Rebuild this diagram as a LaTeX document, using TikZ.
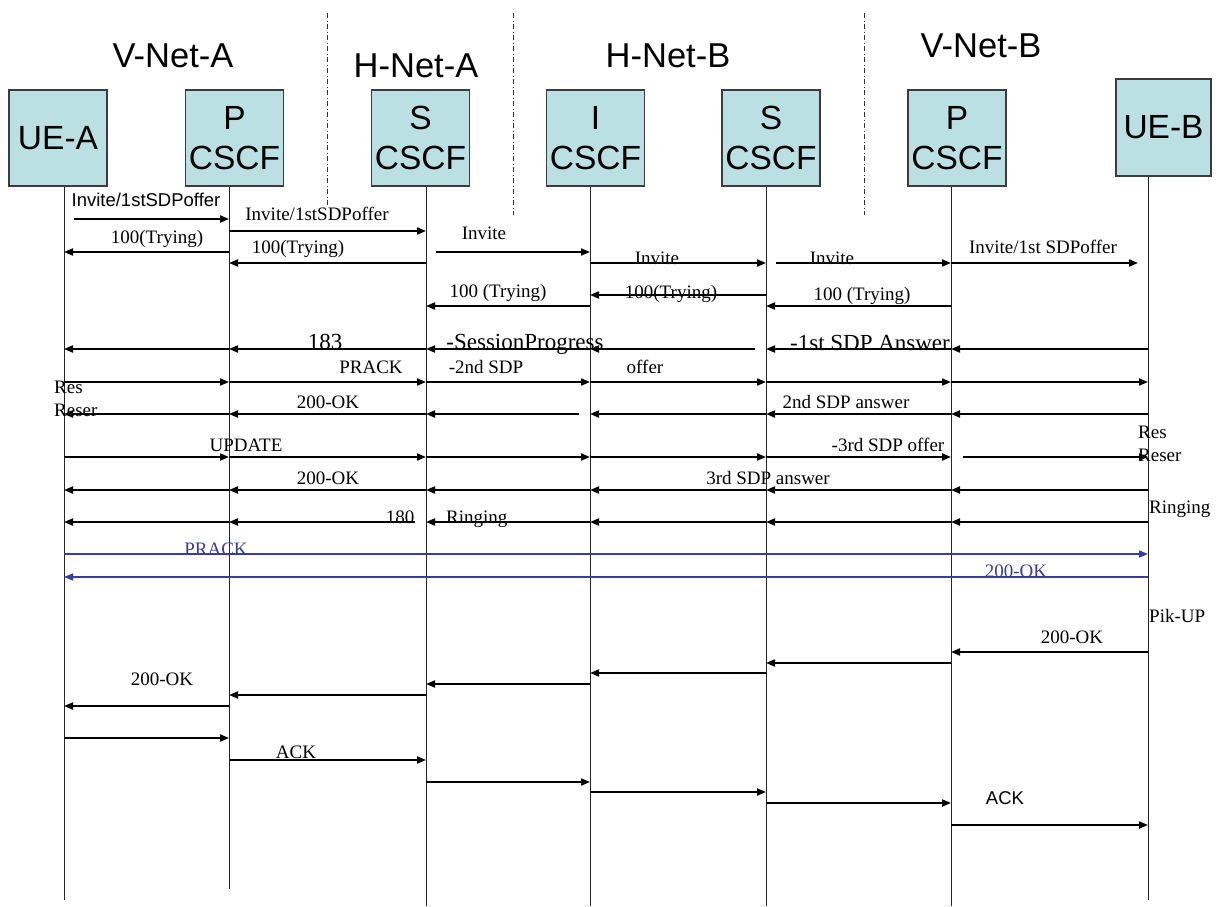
\documentclass[tikz,border=0pt]{standalone}
\usepackage{fontspec}
\setmainfont{Liberation Serif}
\newfontfamily\arialf{Liberation Sans}
\usetikzlibrary{arrows.meta,calc}
\definecolor{boxfill}{RGB}{186,224,228}
\definecolor{boxline}{RGB}{60,60,60}
\definecolor{msgblue}{RGB}{60,60,160}
\newcommand\mg[4][]{\draw[msg,#1] ($(#2)+(0,#4)$) -- ($(#3)+(0,#4)$);}
\begin{document}
\begin{tikzpicture}[x=1pt,y=-1pt,
  ent/.style={draw=boxline,line width=1.3pt,fill=boxfill,minimum width=98pt,minimum height=96pt,inner sep=0pt,align=center,font=\arialf\fontsize{33.5}{40}\selectfont},
  title/.style={inner sep=0pt,font=\arialf\fontsize{34.5}{40}\selectfont,text height=24.7pt,text depth=0pt},
  lifeline/.style={draw=black!85,line width=1pt},
  sep/.style={draw=black!80,line width=1pt,dash pattern=on 5pt off 2.5pt on 1pt off 2.5pt},
  msg/.style={line width=1.9pt,-{Triangle[length=9pt,width=7pt]}},
  lbl/.style={inner sep=0pt,font=\fontsize{19}{22}\selectfont,text height=12.6pt,text depth=0pt},
  slbl/.style={inner sep=0pt,font=\arialf\fontsize{18.5}{22}\selectfont,text height=13.2pt,text depth=0pt},
  big/.style={inner sep=0pt,font=\fontsize{23}{26}\selectfont,text height=15.2pt,text depth=0pt},
  blue/.style={draw=msgblue,line width=1.5pt,-{Triangle[length=9pt,width=7pt]}}
]
\useasboundingbox (0,0) rectangle (1222,906);
% titles
\node[title] (tva) at (173,55) {V-Net-A};
\node[title] (tha) at (416,65) {H-Net-A};
\node[title] (thb) at (668,55) {H-Net-B};
\node[title] (tvb) at (981,45) {V-Net-B};
% separators
\draw[sep] (327,13) -- (327,207);
\draw[sep] (513,13) -- (513,215);
\draw[sep] (864,13) -- (864,215);
% entities
\node[ent] (uea) at (58,138) {UE-A};
\node[ent] (pca) at (234.5,138) {P\\CSCF};
\node[ent] (sca) at (420.5,138) {S\\CSCF};
\node[ent] (icf) at (595.5,138) {I\\CSCF};
\node[ent] (scb) at (771,138) {S\\CSCF};
\node[ent] (pcb) at (957,138) {P\\CSCF};
\node[ent,minimum width=95pt,minimum height=97pt] (ueb) at (1163.5,127.5) {UE-B};
% lifeline x positions
\coordinate (la) at (64,0);
\coordinate (lpa) at (229,0);
\coordinate (lsa) at (426,0);
\coordinate (li) at (590,0);
\coordinate (lsb) at (766,0);
\coordinate (lpb) at (951,0);
\coordinate (lub) at (1148,0);
\draw[lifeline] (la |- uea.south) -- ($(la)+(0,900)$);
\draw[lifeline] (lpa |- pca.south) -- ($(lpa)+(0,889)$);
\draw[lifeline] (lsa |- sca.south) -- ($(lsa)+(0,906)$);
\draw[lifeline] (li |- icf.south) -- ($(li)+(0,906)$);
\draw[lifeline] (lsb |- scb.south) -- ($(lsb)+(0,906)$);
\draw[lifeline] (lpb |- pcb.south) -- ($(lpb)+(0,906)$);
\draw[lifeline] (lub |- ueb.south) -- ($(lub)+(0,900)$);
% INVITE phase
\draw[msg] ($(la)+(10,219)$) -- ($(lpa)+(0,219)$);
\mg{lpa}{lsa}{231}
\mg{lpa}{la}{252}
\mg{lsa}{lpa}{263}
\draw[msg] ($(lsa)+(10,252)$) -- ($(li)+(0,252)$);
\mg{li}{lsb}{263}
\draw[msg] ($(lsb)+(10,263)$) -- ($(lpb)+(0,263)$);
\draw[msg] ($(lpb)+(0,263)$) -- ($(lub)+(-10,263)$);
\mg{lpb}{lsb}{306}
\mg{lsb}{li}{295}
\mg{li}{lsa}{306}
\node[slbl] (t1) at (146,200) {Invite/1stSDPoffer};
\node[lbl] (t2) at (317,214) {Invite/1stSDPoffer};
\node[lbl] (t3) at (157,237) {100(Trying)};
\node[lbl] (t4) at (298,247) {100(Trying)};
\node[lbl] (t5) at (484,233) {Invite};
\node[lbl] (t6) at (657,258) {Invite};
\node[lbl] (t7) at (832,258) {Invite};
\node[lbl] (t8) at (1043,247) {Invite/1st SDPoffer};
\node[lbl] (t9) at (862,294) {100 (Trying)};
\node[lbl] (t10) at (671,292) {100(Trying)};
\node[lbl] (t11) at (498,291) {100 (Trying)};
% 183 session progress
\mg{lub}{lpb}{349}
\mg{lpb}{lsb}{349}
\draw[msg] ($(lsb)+(-11,349)$) -- ($(li)+(0,349)$);
\mg{li}{lsa}{349}
\mg{lsa}{lpa}{349}
\mg{lpa}{la}{349}
\node[big] (t12) at (325,342) {183};
\node[big] (t13) at (525,342) {-SessionProgress};
\node[big] (t14) at (870,343) {-1st SDP Answer};
% PRACK
\mg{la}{lpa}{382}
\mg{lpa}{lsa}{382}
\mg{lsa}{li}{382}
\mg{li}{lsb}{382}
\mg{lsb}{lpb}{382}
\mg{lpb}{lub}{382}
\node[lbl] (t15) at (371,367) {PRACK};
\node[lbl] (t16) at (486,367) {-2nd SDP};
\node[lbl] (t17) at (645,367) {offer};
\node[lbl,anchor=west] (t18) at (54,387) {Res};
\node[lbl,anchor=west] (t19) at (54,410) {Reser};
% 200 OK
\mg{lub}{lpb}{414}
\mg{lpb}{lsb}{414}
\mg{lsb}{li}{414}
\draw[msg] ($(li)+(-11,414)$) -- ($(lsa)+(0,414)$);
\mg{lsa}{lpa}{414}
\mg{lpa}{la}{414}
\node[lbl] (t20) at (846,402) {2nd SDP answer};
\node[lbl] (t21) at (328,402) {200-OK};
% UPDATE
\mg{la}{lpa}{457}
\mg{lpa}{lsa}{457}
\mg{lsa}{li}{457}
\mg{li}{lsb}{457}
\mg{lsb}{lpb}{457}
\draw[msg] ($(lpb)+(12,457)$) -- ($(lub)+(0,457)$);
\node[lbl] (t22) at (246,445) {UPDATE};
\node[lbl] (t23) at (888,445) {-3rd SDP offer};
\node[lbl,anchor=west] (t24) at (1138,432) {Res};
\node[lbl,anchor=west] (t25) at (1138,455) {Reser};
% 200 OK (update)
\mg{lub}{lpb}{490}
\mg{lpb}{lsb}{490}
\mg{lsb}{li}{490}
\mg{li}{lsa}{490}
\mg{lsa}{lpa}{490}
\mg{lpa}{la}{490}
\node[lbl] (t26) at (328,478) {200-OK};
\node[lbl] (t27) at (768,478) {3rd SDP answer};
% 180 Ringing
\mg{lub}{lpb}{522}
\mg{lpb}{lsb}{522}
\mg{lsb}{li}{522}
\mg{li}{lsa}{522}
\draw[msg] ($(lsa)+(-11,522)$) -- ($(lpa)+(0,522)$);
\mg{lpa}{la}{522}
\node[lbl] (t28) at (400,517) {180};
\node[lbl,anchor=west] (t29) at (446,517) {Ringing};
\node[lbl,anchor=west] (t30) at (1149,507) {Ringing};
% PRACK / 200 OK end-to-end
\draw[blue] ($(la)+(0,554)$) -- ($(lub)+(0,554)$);
\draw[blue] ($(lub)+(0,577)$) -- ($(la)+(0,577)$);
\node[lbl,text=msgblue] (t31) at (216,549) {PRACK};
\node[lbl,text=msgblue] (t32) at (1016,571) {200-OK};
% pick up, 200 OK
\node[lbl,anchor=west] (t33) at (1149,616) {Pik-UP};
\mg{lub}{lpb}{652}
\mg{lpb}{lsb}{663}
\mg{lsb}{li}{673}
\mg{li}{lsa}{684}
\mg{lsa}{lpa}{695}
\mg{lpa}{la}{706}
\node[lbl] (t34) at (1072,637) {200-OK};
\node[lbl] (t35) at (162,679) {200-OK};
% ACK
\mg{la}{lpa}{738}
\mg{lpa}{lsa}{760}
\mg{lsa}{li}{782}
\mg{li}{lsb}{792}
\mg{lsb}{lpb}{803}
\mg{lpb}{lub}{825}
\node[lbl] (t36) at (296,752) {ACK};
\node[slbl] (t37) at (1005,798) {ACK};
\end{tikzpicture}
\end{document}
